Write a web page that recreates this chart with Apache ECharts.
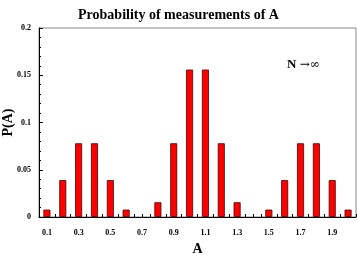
<!DOCTYPE html>
<html>
<head>
<meta charset="utf-8">
<script src="https://cdn.jsdelivr.net/npm/echarts@6/dist/echarts.min.js"></script>
<style>
  html, body { margin: 0; padding: 0; background: #fff; }
  #chart { width: 357px; height: 261px; }
</style>
</head>
<body>
<div id="chart"></div>
<script>
// measured values A and their probabilities
const aValues = [0.1, 0.2, 0.3, 0.4, 0.5, 0.6, 0.7, 0.8, 0.9, 1.0,
                 1.1, 1.2, 1.3, 1.4, 1.5, 1.6, 1.7, 1.8, 1.9, 2.0]
const probs = [0.0078, 0.039, 0.078, 0.078, 0.039, 0.0078, 0, 0.0156, 0.078, 0.156,
               0.156, 0.078, 0.0156, 0, 0.0078, 0.039, 0.078, 0.078, 0.039, 0.0078]
const xLabels = ['0.1', '0.3', '0.5', '0.7', '0.9', '1.1', '1.3', '1.5', '1.7', '1.9']

const font = '"Liberation Serif", "Times New Roman", serif'
const chart = echarts.init(document.getElementById('chart'))

chart.setOption({
  animation: false,
  title: {
    text: 'Probability of measurements of A',
    left: 'center',
    top: 3,
    textStyle: { fontFamily: font, fontSize: 14, fontWeight: 'bold', color: '#000' }
  },
  grid: {
    left: 39, top: 28, right: 1, bottom: 44,
    outerBoundsMode: 'none',
    containLabel: false,
    show: true, borderColor: '#888', borderWidth: 1
  },
  xAxis: {
    type: 'value',
    min: 0.05,
    max: 2.05,
    interval: 0.05,
    name: 'A',
    nameLocation: 'middle',
    nameGap: 25,
    nameMoveOverlap: false,
    nameTextStyle: { fontFamily: font, fontSize: 14, fontWeight: 'bold', color: '#000' },
    axisLine: { show: true, lineStyle: { color: '#000' } },
    axisTick: { show: true, inside: true, length: 3, lineStyle: { color: '#000' } },
    splitLine: { show: false },
    axisLabel: {
      fontFamily: font, fontSize: 8, fontWeight: 'bold', color: '#000', margin: 12,
      showMinLabel: true, showMaxLabel: true,
      formatter: v => {
        const s = (Math.round(v * 100) / 100).toString()
        return xLabels.includes(s) ? s : ''
      }
    }
  },
  yAxis: {
    type: 'value',
    min: 0,
    max: 0.2,
    interval: 0.05,
    name: 'P(A)',
    nameLocation: 'middle',
    nameGap: 24,
    nameMoveOverlap: false,
    nameTextStyle: { fontFamily: font, fontSize: 14, fontWeight: 'bold', color: '#000' },
    axisLine: { show: true, lineStyle: { color: '#000' } },
    axisTick: { show: true, inside: true, length: 4, lineStyle: { color: '#000' } },
    minorTick: { show: true, splitNumber: 5, length: 2, lineStyle: { color: '#000' } },
    splitLine: { show: false },
    axisLabel: {
      fontFamily: font, fontSize: 8, fontWeight: 'bold', color: '#000', margin: 8,
      formatter: v => (Math.round(v * 100) / 100).toString()
    }
  },
  graphic: [{
    type: 'text',
    left: 287,
    top: 58,
    style: {
      text: '{b|N} {a|→∞}',
      rich: {
        b: { fontFamily: font, fontSize: 13, fontWeight: 'bold', fill: '#000' },
        a: { fontFamily: '"DejaVu Serif", serif', fontSize: 12, fill: '#000' }
      }
    }
  }],
  series: [{
    type: 'bar',
    barWidth: 7,
    data: aValues.map((a, i) => [a, probs[i] === 0 ? '-' : probs[i]]),
    itemStyle: { color: '#ff0000', borderColor: '#4a0000', borderWidth: 0.8 }
  }]
})
</script>
</body>
</html>
